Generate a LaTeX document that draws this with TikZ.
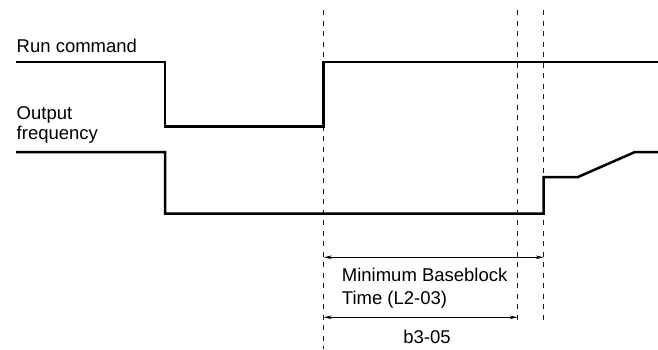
\documentclass[tikz,border=0pt]{standalone}
\usepackage{fontspec}
\setmainfont{Liberation Sans}
\usetikzlibrary{arrows.meta}
\begin{document}
\begin{tikzpicture}[x=1pt,y=-1pt,
  signal/.style={line width=2.5pt,line join=miter},
  guide/.style={line width=1.4pt,black!90,dash pattern=on 5pt off 5.5pt},
  dim/.style={line width=0.9pt,{Stealth[length=8pt,width=3.6pt]}-{Stealth[length=8pt,width=3.6pt]}},
  lbl/.style={anchor=base west,inner sep=0pt,font=\fontsize{18.5}{21}\selectfont}]
\useasboundingbox (0,0) rectangle (658,349);
% labels
\node[lbl] (run) at (16.5,52.5) {Run command};
\node[lbl] (out) at (16.5,119) {Output};
\node[lbl] (freq) at (16.5,139.5) {frequency};
% guide lines
\coordinate (g1t) at (323.7,10); \coordinate (g1b) at (323.7,349);
\coordinate (g2t) at (517.7,10); \coordinate (g2b) at (517.7,321);
\coordinate (g3t) at (543.7,10); \coordinate (g3b) at (543.7,321);
\draw[guide] (g1t) -- (g1b);
\draw[guide] (g2t) -- (g2b);
\draw[guide] (g3t) -- (g3b);
% run command
\draw[signal] (16,62) -- (165,62) -- (165,126.5) -- (323.7,126.5) -- (323.7,62) -- (658,62);
% output frequency
\draw[signal] (16,152) -- (165,152) -- (165,213.5) -- (543.7,213.5) -- (543.7,177) -- (578,177) -- (635,152) -- (658,152);
% dimension arrows
\coordinate (a1l) at (323.7,257.3); \coordinate (a1r) at (543.7,257.3);
\coordinate (a2l) at (323.7,317.3); \coordinate (a2r) at (517.7,317.3);
\draw[dim] (a1l) -- (a1r);
\draw[dim] (a2l) -- (a2r);
\node[lbl] (mbb) at (341.7,281.7) {Minimum Baseblock};
\node[lbl] (tim) at (341.7,304) {Time (L2-03)};
\node[lbl,anchor=base] (b305) at (427,343) {b3-05};
\end{tikzpicture}
\end{document}
